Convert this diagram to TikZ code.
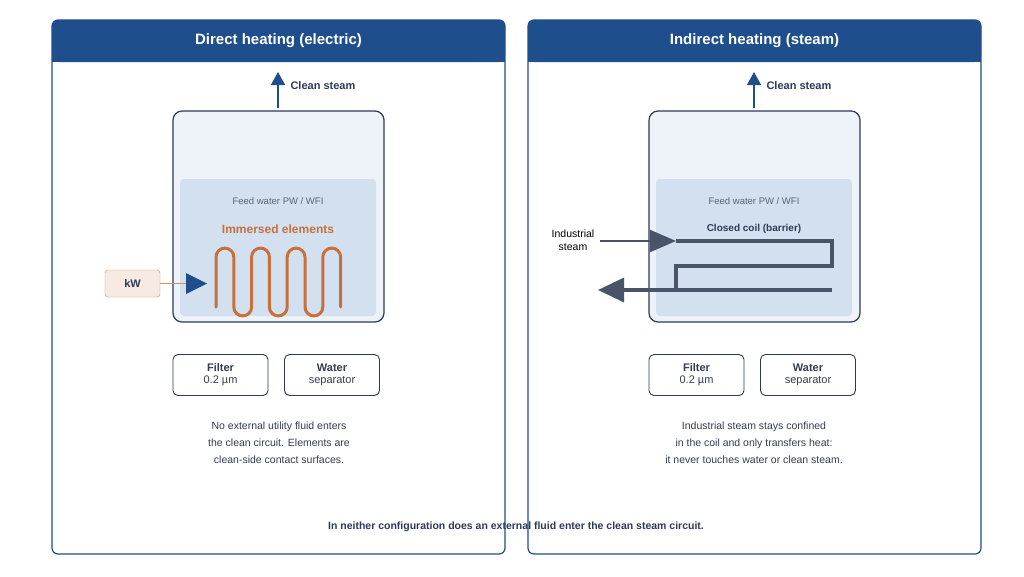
\documentclass[tikz,border=0pt]{standalone}
\usepackage{fontspec}
\setmainfont{Liberation Sans}
\usetikzlibrary{arrows.meta}
\definecolor{hdr}{HTML}{1F4E8C}
\definecolor{frame}{HTML}{2E3A59}
\definecolor{vessel}{HTML}{EEF3FA}
\definecolor{water}{HTML}{D3E0F0}
\definecolor{copper}{HTML}{C8703C}
\definecolor{coil}{HTML}{4A5468}
\definecolor{txt}{HTML}{333D4F}
\begin{document}
\begin{tikzpicture}[x=1pt,y=-1pt,
 panel/.style={draw=hdr,line width=1.2pt,rounded corners=6pt},
 ves/.style={draw=frame,line width=1.2pt,rounded corners=9pt,fill=vessel},
 wat/.style={fill=water,rounded corners=4pt},
 sbox/.style={draw=frame,line width=0.9pt,rounded corners=5pt,fill=white,minimum width=95pt,minimum height=41pt,align=center,font=\fontsize{11}{12}\selectfont,text=txt},
 note/.style={align=center,font=\fontsize{10.5}{17}\selectfont,text=txt},
 up/.style={draw=hdr,line width=1.5pt,-{Triangle[length=13pt,width=14pt]}},
 lab/.style={font=\bfseries\fontsize{11}{13}\selectfont,text=frame,anchor=west}]
\useasboundingbox (0,0) rectangle (1024,576);
\fill[white] (0,0) rectangle (1024,576);
\foreach \ox/\t in {0/Direct heating (electric),476/Indirect heating (steam)}{
 \begin{scope}[xshift=\ox pt]
 \draw[panel,fill=white] (52,20) rectangle (505,554);
 \fill[hdr,rounded corners=6pt] (52,20) rectangle (505,62);
 \fill[hdr] (52,50) rectangle (505,62);
 \node[text=white,font=\bfseries\fontsize{15}{18}\selectfont] at (278.5,41) {\t};
 \draw[ves] (173,111) rectangle (384,322);
 \fill[wat] (180,179) rectangle (376,316);
 \node[font=\fontsize{9.5}{11}\selectfont,text=txt!80] at (278,201) {Feed water PW / WFI};
 \coordinate (cs) at (278,108);
 \coordinate (ct) at (278,72);
 \draw[up] (cs) -- (ct);
 \node[lab] at (287,86) {Clean steam};
 \node[sbox] at (220.5,375) {\textbf{Filter}\\0.2 µm};
 \node[sbox] at (332,375) {\textbf{Water}\\separator};
 \end{scope}}
% left coil
\node[font=\bfseries\fontsize{12}{14}\selectfont,text=copper] at (278,229) {Immersed elements};
\draw[copper,line width=3pt,line cap=round]
 (216,307) -- (216,257)
 \foreach \i in {0,1,2,3}{ arc[start angle=180,end angle=0,radius=8.9pt] -- ++(0,50)
 \ifnum\i<3 arc[start angle=180,end angle=360,radius=8.9pt] -- ++(0,-50)\fi};
\node[draw=copper!80,fill=copper!15,rounded corners=3pt,minimum width=55pt,minimum height=27pt,font=\bfseries\fontsize{11}{13}\selectfont,text=frame] (kw) at (132.5,283.5) {kW};
\coordinate (kwa) at (207,283.5);
\draw[copper!80,line width=1.2pt] (kw.east) -- (188,283.5);
\fill[hdr] (186,273) -- (207,283.5) -- (186,294) -- cycle;
% right coil
\node[font=\bfseries\fontsize{10}{12}\selectfont,text=frame] at (754,229) {Closed coil (barrier)};
\draw[coil,line width=3.5pt] (676,241) -- (832,241) -- (832,266) -- (676,266) -- (676,290) -- (832,290);
\node[font=\fontsize{10.5}{13}\selectfont,text=black,align=center] (is) at (573,240) {Industrial\\steam};
\coordinate (ina) at (600,241);
\coordinate (inb) at (676,241);
\draw[coil,line width=2pt,-{Triangle[length=26pt,width=22pt]}] (ina) -- (inb);
\coordinate (outa) at (676,290);
\coordinate (outb) at (598,290);
\draw[coil,line width=3.5pt,-{Triangle[length=26pt,width=24pt]}] (outa) -- (outb);
\node[note] at (279,443) {No external utility fluid enters\\the clean circuit. Elements are\\clean-side contact surfaces.};
\node[note] at (754,443) {Industrial steam stays confined\\in the coil and only transfers heat:\\it never touches water or clean steam.};
\node[font=\bfseries\fontsize{10.5}{13}\selectfont,text=frame] at (516,527) {In neither configuration does an external fluid enter the clean steam circuit.};
\end{tikzpicture}
\end{document}
